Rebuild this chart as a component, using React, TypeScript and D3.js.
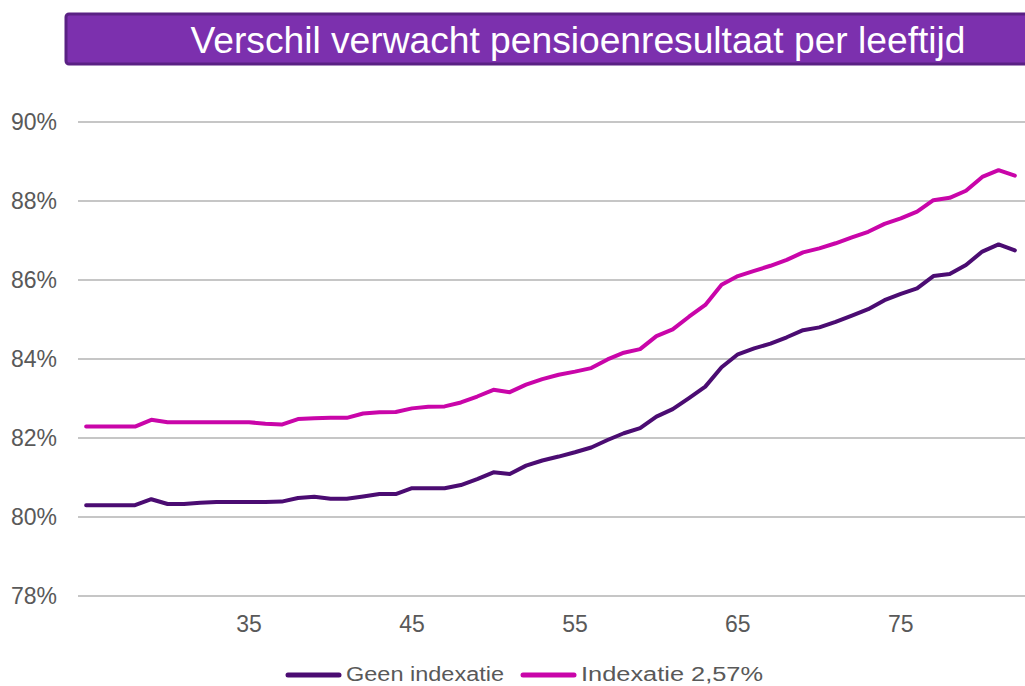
import React from "react";
import * as d3 from "d3";

// ages on the x-axis (category axis, one point per year)
const ages = d3.range(25, 83);

// expected pension result (%)
const geenIndexatie = [
  80.3, 80.3, 80.3, 80.3, 80.45, 80.33, 80.33, 80.36, 80.38, 80.38,
  80.38, 80.38, 80.39, 80.48, 80.51, 80.46, 80.46, 80.52, 80.58, 80.58,
  80.73, 80.73, 80.73, 80.81, 80.96, 81.13, 81.09, 81.3, 81.43, 81.53,
  81.64, 81.76, 81.95, 82.12, 82.25, 82.54, 82.73, 83.01, 83.3, 83.79,
  84.12, 84.27, 84.39, 84.55, 84.73, 84.8, 84.94, 85.1, 85.26, 85.49,
  85.65, 85.79, 86.1, 86.15, 86.38, 86.72, 86.9, 86.75,
];
const indexatie257 = [
  82.29, 82.29, 82.29, 82.29, 82.46, 82.4, 82.4, 82.4, 82.4, 82.4,
  82.4, 82.36, 82.34, 82.48, 82.5, 82.51, 82.51, 82.62, 82.65, 82.66,
  82.75, 82.79, 82.8, 82.9, 83.05, 83.22, 83.16, 83.35, 83.49, 83.6,
  83.68, 83.77, 83.99, 84.16, 84.25, 84.58, 84.75, 85.07, 85.37, 85.88,
  86.1, 86.23, 86.36, 86.51, 86.7, 86.8, 86.93, 87.08, 87.22, 87.42,
  87.56, 87.73, 88.02, 88.08, 88.26, 88.61, 88.78, 88.64,
];

const seriesNames = ["Geen indexatie", "Indexatie 2,57%"];
const seriesColors = ["#4b0c72", "#c905a9"];
const yTicks = [78, 80, 82, 84, 86, 88, 90];
const xTickLabels = [35, 45, 55, 65, 75];
const title = "Verschil verwacht pensioenresultaat per leeftijd";

const W = 1025;
const H = 686;
const font = "'Liberation Sans', Arial, sans-serif";

// legend placement: line start, text width
const legendItems = [
  { x: 288, textW: 158 },
  { x: 523, textW: 182 },
];

export default function App() {
  const x = d3
    .scaleBand<number>()
    .domain(ages)
    .range([78, 1023]);
  const cx = (a: number) => (x(a) as number) + x.bandwidth() / 2;

  const y = d3.scaleLinear().domain([78, 90]).range([596, 122]);

  const line = d3
    .line<number>()
    .x((_, i) => cx(ages[i]))
    .y((d) => y(d))
    .curve(d3.curveLinear);

  const series = [geenIndexatie, indexatie257];

  return (
    <svg
      width={W}
      height={H}
      style={{ position: "absolute", left: 0, top: 0, background: "#fff" }}
      fontFamily={font}
    >
      {/* title bar */}
      <rect
        x={66}
        y={14}
        width={980}
        height={50}
        rx={3}
        fill="#7c30ae"
        stroke="#5a2184"
        strokeWidth={3}
      />
      <text
        x={578}
        y={53}
        textAnchor="middle"
        fill="#fff"
        fontSize={36}
        textLength={775}
        lengthAdjust="spacingAndGlyphs"
      >
        {title}
      </text>

      {/* gridlines + y labels */}
      {yTicks.map((t) => (
        <g key={t}>
          <line
            x1={78}
            x2={W}
            y1={y(t)}
            y2={y(t)}
            stroke="#c6c6c6"
            strokeWidth={2}
          />
          <text
            x={57}
            y={y(t)}
            dy="0.36em"
            textAnchor="end"
            fill="#595959"
            fontSize={23}
          >
            {t}%
          </text>
        </g>
      ))}

      {/* x labels */}
      {xTickLabels.map((a) => (
        <text
          key={a}
          x={cx(a)}
          y={632}
          textAnchor="middle"
          fill="#595959"
          fontSize={23}
        >
          {a}
        </text>
      ))}

      {/* lines */}
      {series.map((s, i) => (
        <path
          key={seriesNames[i]}
          d={line(s) || ""}
          fill="none"
          stroke={seriesColors[i]}
          strokeWidth={4}
          strokeLinejoin="round"
          strokeLinecap="round"
        />
      ))}

      {/* legend */}
      {seriesNames.map((name, i) => {
        const { x: lx, textW } = legendItems[i];
        return (
          <g key={name}>
            <line
              x1={lx}
              x2={lx + 51}
              y1={675}
              y2={675}
              stroke={seriesColors[i]}
              strokeWidth={5}
              strokeLinecap="round"
            />
            <text
              x={lx + 58}
              y={681}
              fill="#595959"
              fontSize={20}
              textLength={textW}
              lengthAdjust="spacingAndGlyphs"
            >
              {name}
            </text>
          </g>
        );
      })}
    </svg>
  );
}
